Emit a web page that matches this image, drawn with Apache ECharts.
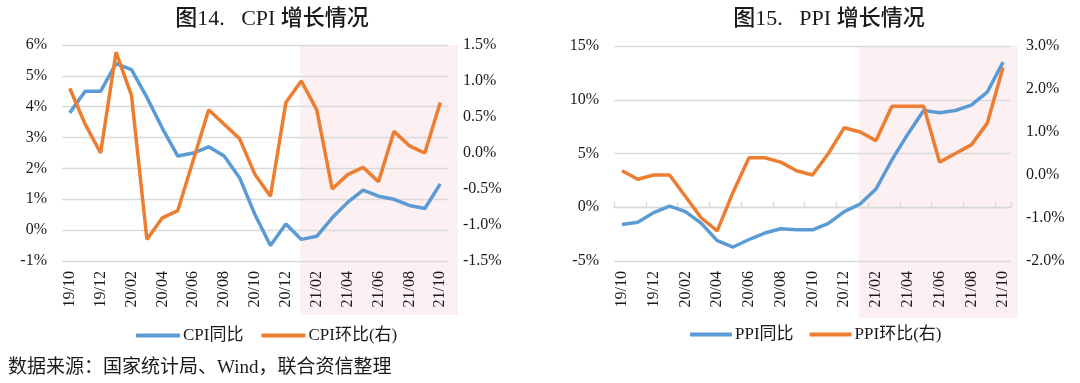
<!DOCTYPE html>
<html>
<head>
<meta charset="utf-8">
<script src="https://cdn.jsdelivr.net/npm/echarts@6/dist/echarts.min.js"></script>
<style>
html,body{margin:0;padding:0;background:#fff;}
#main{width:1080px;height:383px;}
</style>
</head>
<body>
<div id="main"></div>
<script>
// ---- data ----
var months = ['19/10','19/11','19/12','20/01','20/02','20/03','20/04','20/05','20/06','20/07','20/08','20/09','20/10','20/11','20/12','21/01','21/02','21/03','21/04','21/05','21/06','21/07','21/08','21/09','21/10'];
var cpiYoY = [3.8,4.5,4.5,5.4,5.2,4.3,3.3,2.4,2.5,2.7,2.4,1.7,0.5,-0.5,0.2,-0.3,-0.2,0.4,0.9,1.3,1.1,1.0,0.8,0.7,1.5];
var cpiMoM = [0.9,0.4,0.0,1.4,0.8,-1.2,-0.9,-0.8,-0.1,0.6,0.4,0.2,-0.3,-0.6,0.7,1.0,0.6,-0.5,-0.3,-0.2,-0.4,0.3,0.1,0.0,0.7];
var ppiYoY = [-1.6,-1.4,-0.5,0.1,-0.4,-1.5,-3.1,-3.7,-3.0,-2.4,-2.0,-2.1,-2.1,-1.5,-0.4,0.3,1.7,4.4,6.8,9.0,8.8,9.0,9.5,10.7,13.5];
var ppiMoM = [0.1,-0.1,0.0,0.0,-0.5,-1.0,-1.3,-0.4,0.4,0.4,0.3,0.1,0.0,0.5,1.1,1.0,0.8,1.6,1.6,1.6,0.3,0.5,0.7,1.2,2.5];
var shadeStart = '21/01';
var titles = ['图14.   CPI 增长情况', '图15.   PPI 增长情况'];
var seriesNames = ['CPI同比', 'CPI环比(右)', 'PPI同比', 'PPI环比(右)'];
var sourceText = '数据来源：国家统计局、Wind，联合资信整理';

// ---- style ----
var FONT = "'Liberation Serif','Noto Sans CJK SC',serif";
var BLUE = '#5b9bd5', ORANGE = '#ed7d31', GRID = '#d9d9d9', TXT = '#1a1a1a', PINK = '#fcf0f2';
var grids = [
  {left: 62, right: 632, top: 45, bottom: 122},
  {left: 614, right: 69, top: 46, bottom: 122}
];

function pct0(v){ return v + '%'; }
function pct1(v){ return v.toFixed(1) + '%'; }

function yAx(grid, min, max, interval, fmt, split){
  return {
    type: 'value', gridIndex: grid, min: min, max: max, interval: interval,
    axisLine: {show: false}, axisTick: {show: false},
    splitLine: {show: split, lineStyle: {color: GRID, width: 1.3}},
    axisLabel: {formatter: fmt, color: TXT, fontSize: 16, fontFamily: FONT, margin: 15}
  };
}
function xLabelAx(grid){
  return {
    type: 'category', gridIndex: grid, data: months, boundaryGap: true,
    axisLine: {show: false, onZero: false}, axisTick: {show: false},
    axisLabel: {interval: 1, rotate: 90, color: TXT, fontSize: 16, fontFamily: FONT, margin: 10}
  };
}
function line(name, xi, yi, data, color){
  return {
    name: name, type: 'line', xAxisIndex: xi, yAxisIndex: yi, data: data,
    symbol: 'none', smooth: false, z: 5,
    lineStyle: {color: color, width: 3.5}, itemStyle: {color: color}
  };
}

var chart = echarts.init(document.getElementById('main'), null, {renderer: 'canvas'});
var option = {
  animation: false,
  backgroundColor: '#fff',
  grid: grids,
  xAxis: [
    xLabelAx(0),
    xLabelAx(1),
    {
      type: 'category', gridIndex: 1, data: months, boundaryGap: true,
      axisLine: {show: true, onZero: true, onZeroAxisIndex: 2, lineStyle: {color: GRID, width: 1.3}},
      axisTick: {show: true, interval: 1, length: 5, lineStyle: {color: GRID, width: 1.3}},
      axisLabel: {show: false}
    }
  ],
  yAxis: [
    yAx(0, -1, 6, 1, pct0, true),
    yAx(0, -1.5, 1.5, 0.5, pct1, false),
    yAx(1, -5, 15, 5, pct0, true),
    yAx(1, -2, 3, 1, pct1, false)
  ],
  legend: [
    {data: [seriesNames[0], seriesNames[1]], left: 131, top: 322, icon: 'roundRect', itemWidth: 44, itemHeight: 4, itemGap: 18,
     textStyle: {fontSize: 17, color: TXT, fontFamily: FONT, padding: [0,0,0,-2]}},
    {data: [seriesNames[2], seriesNames[3]], left: 685, top: 321, icon: 'roundRect', itemWidth: 42, itemHeight: 4, itemGap: 16,
     textStyle: {fontSize: 17, color: TXT, fontFamily: FONT, padding: [0,0,0,-2]}}
  ],
  series: [
    line(seriesNames[0], 0, 0, cpiYoY, BLUE),
    line(seriesNames[1], 0, 1, cpiMoM, ORANGE),
    line(seriesNames[2], 1, 2, ppiYoY, BLUE),
    line(seriesNames[3], 1, 3, ppiMoM, ORANGE)
  ]
};
chart.setOption(option);

// shaded region and texts
var W = 1080;
var g0r = W - grids[0].right, g1r = W - grids[1].right;
var x0 = chart.convertToPixel({xAxisIndex: 0}, shadeStart);
var x1 = chart.convertToPixel({xAxisIndex: 1}, shadeStart);
chart.setOption({
  graphic: [
    {type: 'rect', z: -10, silent: true, shape: {x: x0 - 1, y: grids[0].top, width: g0r + 10 - x0 + 1, height: 315 - grids[0].top}, style: {fill: PINK}},
    {type: 'rect', z: -10, silent: true, shape: {x: x1 - 1, y: grids[1].top, width: g1r + 7 - x1 + 1, height: 318 - grids[1].top}, style: {fill: PINK}},
    {type: 'text', x: 272, y: 19, style: {text: titles[0], fill: TXT, font: '500 22px ' + FONT, textAlign: 'center', textVerticalAlign: 'middle'}},
    {type: 'text', x: 829, y: 19, style: {text: titles[1], fill: TXT, font: '500 22px ' + FONT, textAlign: 'center', textVerticalAlign: 'middle'}},
    {type: 'text', x: 8, y: 368, style: {text: sourceText, fill: TXT, font: '19px ' + FONT, textAlign: 'left', textVerticalAlign: 'middle'}}
  ]
});
</script>
</body>
</html>
